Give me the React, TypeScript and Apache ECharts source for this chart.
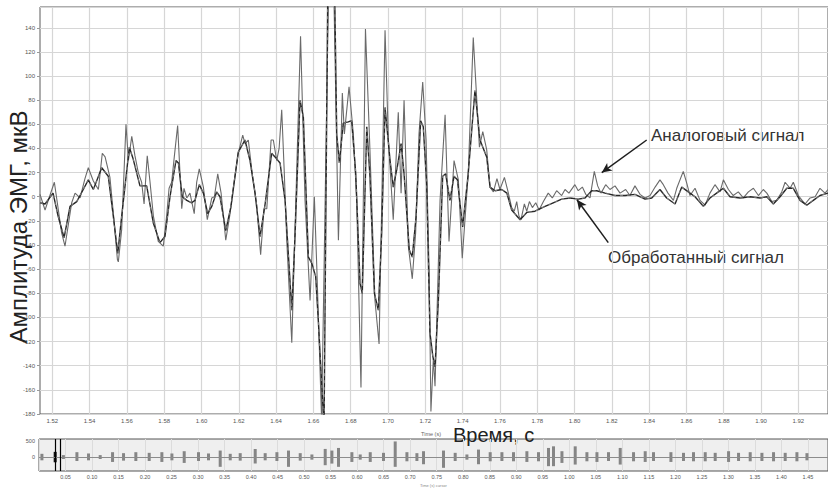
import React, { useEffect, useRef } from "react";
import * as echarts from "echarts";

// ---- Main chart: time axis tick labels (s)
const xTickLabels = ["1.52","1.54","1.56","1.58","1.60","1.62","1.64","1.66","1.68","1.70","1.72","1.74","1.76","1.78","1.80","1.82","1.84","1.86","1.88","1.90","1.92"];

// ---- Analog signal (µV) vertices
const analogT = [1.5134,1.5161,1.5211,1.5250,1.5268,1.5304,1.5322,1.5349,1.5375,1.5393,1.5420,1.5447,1.5468,1.5483,1.5509,1.5527,1.5549,1.5554,1.5572,1.5595,1.5608,1.5626,1.5643,1.5661,1.5679,1.5692,1.5709,1.5724,1.5742,1.5768,1.5795,1.5813,1.5826,1.5840,1.5854,1.5872,1.5894,1.5906,1.5921,1.5938,1.5961,1.5974,1.5988,1.6010,1.6031,1.6055,1.6069,1.6087,1.6105,1.6130,1.6153,1.6171,1.6197,1.6221,1.6233,1.6251,1.6272,1.6296,1.6317,1.6335,1.6350,1.6373,1.6385,1.6403,1.6416,1.6430,1.6444,1.6457,1.6484,1.6531,1.6555,1.6582,1.6605,1.6618,1.6644,1.6683,1.6707,1.6734,1.6755,1.6766,1.6791,1.6814,1.6832,1.6855,1.6879,1.6903,1.6930,1.6952,1.6984,1.7002,1.7028,1.7055,1.7070,1.7086,1.7109,1.7130,1.7148,1.7166,1.7186,1.7204,1.7221,1.7230,1.7243,1.7252,1.7279,1.7306,1.7327,1.7354,1.7377,1.7398,1.7430,1.7457,1.7476,1.7490,1.7508,1.7529,1.7547,1.7565,1.7584,1.7600,1.7624,1.7642,1.7663,1.7677,1.7690,1.7702,1.7713,1.7731,1.7744,1.7758,1.7774,1.7792,1.7810,1.7833,1.7859,1.7881,1.7904,1.7931,1.7949,1.7970,1.8002,1.8020,1.8042,1.8060,1.8083,1.8106,1.8124,1.8142,1.8167,1.8190,1.8217,1.8244,1.8274,1.8297,1.8324,1.8351,1.8378,1.8405,1.8432,1.8458,1.8476,1.8501,1.8530,1.8548,1.8583,1.8602,1.8619,1.8646,1.8673,1.8700,1.8726,1.8753,1.8780,1.8798,1.8825,1.8851,1.8878,1.8905,1.8932,1.8959,1.8986,1.9012,1.9031,1.9058,1.9084,1.9111,1.9129,1.9156,1.9173,1.9200,1.9236,1.9263,1.9290,1.9316,1.9343,1.9359];
const analogV = [2,-11,12,-30,-41,-5,3,-1,15,24,13,6,36,33,16,-13,-52,-54,-27,60,30,50,34,20,12,-6,34,12,-16,-37,-41,-16,7,12,33,59,-10,7,-1,3,-14,12,23,8,-19,-1,0,19,3,-36,-14,8,36,51,44,47,19,-7,-48,-10,-10,47,47,30,40,72,19,-36,-121,133,-3,-86,0,-58,-185,190,190,-36,86,52,91,52,-3,-158,139,39,-86,-122,138,47,-19,70,3,80,-41,-68,-30,52,95,47,-66,-178,-134,-157,-3,68,-37,30,14,-51,19,132,80,41,54,39,8,4,15,6,16,5,-9,-12,-4,-16,-19,-6,-12,-4,-9,-5,-11,-4,3,-1,5,1,6,3,10,5,8,2,-1,21,9,3,10,6,9,3,6,1,9,2,-1,1,8,14,10,3,-3,7,21,11,1,7,-3,-7,3,10,4,14,6,1,4,-1,4,7,1,6,3,-4,-3,4,12,7,12,1,-6,-1,0,7,3,6];

// ---- Processed signal (µV) vertices
const procT = [1.5134,1.5161,1.5204,1.5231,1.5263,1.5295,1.5331,1.5366,1.5393,1.5420,1.5465,1.5500,1.5527,1.5551,1.5572,1.5613,1.5634,1.5670,1.5706,1.5742,1.5777,1.5804,1.5831,1.5863,1.5876,1.5897,1.5921,1.5947,1.5965,1.5988,1.6010,1.6033,1.6055,1.6081,1.6099,1.6130,1.6158,1.6197,1.6233,1.6260,1.6287,1.6314,1.6341,1.6376,1.6394,1.6421,1.6448,1.6484,1.6502,1.6528,1.6546,1.6573,1.6591,1.6612,1.6626,1.6644,1.6657,1.6678,1.6712,1.6725,1.6739,1.6760,1.6787,1.6805,1.6827,1.6850,1.6862,1.6886,1.6903,1.6927,1.6948,1.6966,1.6984,1.7011,1.7028,1.7050,1.7070,1.7086,1.7114,1.7130,1.7150,1.7175,1.7189,1.7207,1.7225,1.7240,1.7252,1.7270,1.7293,1.7309,1.7332,1.7354,1.7372,1.7400,1.7430,1.7466,1.7493,1.7529,1.7547,1.7574,1.7610,1.7637,1.7663,1.7708,1.7744,1.7788,1.7842,1.7886,1.7931,1.7976,1.8020,1.8056,1.8092,1.8119,1.8164,1.8217,1.8271,1.8324,1.8378,1.8414,1.8458,1.8494,1.8539,1.8575,1.8610,1.8646,1.8691,1.8726,1.8771,1.8798,1.8834,1.8888,1.8941,1.8995,1.9031,1.9066,1.9102,1.9138,1.9173,1.9209,1.9245,1.9280,1.9316,1.9359];
const procV = [-5,-6,3,-16,-34,-8,-4,6,14,6,24,17,-16,-47,-16,41,31,9,9,-22,-38,-33,0,30,28,0,-3,-5,-3,10,3,-14,-8,4,0,-28,-8,37,47,30,3,-33,-6,36,33,28,-3,-94,-30,80,66,-50,-55,-66,-102,-154,-190,190,190,52,28,61,62,63,19,-72,-80,58,17,-80,-94,-30,74,30,8,25,44,19,-44,-50,-17,63,58,11,-113,-132,-141,-86,17,19,-3,17,14,-25,19,88,47,33,8,5,6,3,-11,-19,-13,-12,-8,-5,-2,-1,-2,-1,5,5,3,1,1,2,-2,-1,6,-1,-6,8,4,0,-8,-1,4,7,0,-1,0,-1,0,-6,0,7,7,-3,-7,-3,1,3];

// ---- Annotation arrows: [tail, head] in (s, µV)
const arrowAnalog = [[1.8387, 47], [1.8146, 20]];
const arrowProc = [[1.8181, -38], [1.8013, -2.5]];

// ---- Overview strip: burst times (s) and envelope (upper / lower)
const miniT = [0.0055,0.0305,0.046,0.0715,0.0934,0.1154,0.1387,0.1594,0.1826,0.2078,0.2317,0.2506,0.2738,0.3008,0.3196,0.3417,0.3606,0.3794,0.4077,0.4265,0.4486,0.4705,0.4926,0.5146,0.5397,0.5523,0.5648,0.5900,0.6057,0.6246,0.6496,0.6717,0.6938,0.7126,0.7251,0.7628,0.7848,0.8069,0.8288,0.8508,0.8729,0.8948,0.9200,0.9419,0.9608,0.9702,0.9861,1.0111,1.0332,1.0521,1.0739,1.0960,1.1211,1.1431,1.1588,1.1916,1.2153,1.2342,1.2563,1.2751,1.3003,1.3191,1.3411,1.3632,1.3851,1.4071,1.4292,1.4481];
const miniUp = [100,160,60,150,110,60,150,120,150,130,150,110,180,150,110,200,100,120,250,120,150,200,120,80,250,200,280,150,80,150,130,480,150,120,180,200,130,80,230,150,150,150,180,150,280,330,180,330,150,150,150,280,150,180,150,150,130,150,150,130,180,130,150,130,150,130,150,120];
const miniDown = [-100,-160,-60,-120,-100,-60,-150,-110,-120,-120,-150,-100,-180,-120,-100,-300,-100,-110,-200,-100,-120,-300,-110,-80,-250,-200,-300,-150,-80,-150,-120,-300,-130,-120,-220,-330,-120,-80,-220,-130,-120,-130,-150,-130,-280,-280,-180,-230,-130,-150,-120,-230,-130,-150,-120,-150,-120,-130,-130,-120,-150,-120,-130,-120,-130,-120,-130,-100];
const miniWindow = [0.0273, 0.0356];
const miniYLabels = [0, 500];

const FONT = "'Liberation Sans', Arial, sans-serif";

export default function App() {
  const ref = useRef<HTMLDivElement>(null);
  useEffect(() => {
    const chart = echarts.init(ref.current!, null, { renderer: "svg" });
    const xTicks = xTickLabels.map(Number);
    const analog = analogT.map((t, i) => [t, analogV[i]]);
    const proc = procT.map((t, i) => [t, procV[i]]);
    const inWin = (t: number) => t >= miniWindow[0] && t <= miniWindow[1];
    const up = miniT.map((t, i) => ({ value: [t, miniUp[i]], itemStyle: { color: inWin(t) ? "#111" : "#858585" } }));
    const down = miniT.map((t, i) => ({ value: [t, miniDown[i]], itemStyle: { color: inWin(t) ? "#111" : "#858585" } }));

    chart.setOption({
      animation: false,
      backgroundColor: "#ffffff",
      textStyle: { fontFamily: FONT },
      grid: [
        { left: 40, top: 7, width: 788, height: 407, show: true, borderColor: "#5a5a5a", borderWidth: 1, backgroundColor: "transparent" },
        { left: 39, top: 439, width: 789, height: 32, show: true, borderColor: "#555", borderWidth: 1, backgroundColor: "#efefef" },
      ],
      xAxis: [
        {
          type: "value", gridIndex: 0, min: 1.5134, max: 1.9359,
          axisLine: { show: false },
          axisTick: { show: false, customValues: xTicks },
          axisLabel: { customValues: xTicks, formatter: (v: number) => v.toFixed(2), fontSize: 6, color: "#555", margin: 4 },
          splitLine: { show: true, lineStyle: { color: "#d6d6d6", width: 1.2 } },
        },
        {
          type: "value", gridIndex: 1, min: 0, max: 1.4878, interval: 0.05,
          axisLine: { show: false }, axisTick: { show: false },
          axisLabel: { fontSize: 5.5, color: "#555", margin: 3, showMinLabel: false, showMaxLabel: false, formatter: (v: number) => v.toFixed(2) },
          splitLine: { show: true, lineStyle: { color: "#dcdcdc", width: 1 } },
        },
      ],
      yAxis: [
        {
          type: "value", gridIndex: 0, min: -180, max: 157.2, interval: 20,
          axisLine: { show: false },
          axisTick: { show: true, length: 3, lineStyle: { color: "#999" } },
          axisLabel: { fontSize: 6, color: "#555", margin: 5, showMaxLabel: false },
          splitLine: { show: true, lineStyle: { color: "#d6d6d6", width: 1.2 } },
        },
        {
          type: "value", gridIndex: 1, min: -428, max: 555,
          axisLine: { show: false },
          axisTick: { show: false, customValues: miniYLabels },
          axisLabel: { customValues: miniYLabels, fontSize: 5.5, color: "#555", margin: 4 },
          splitLine: { show: false },
        },
      ],
      series: [
        {
          name: "Аналоговый сигнал", type: "line", xAxisIndex: 0, yAxisIndex: 0, data: analog,
          symbol: "none", clip: true, z: 2,
          lineStyle: { color: "#6a6a6a", width: 1.1 },
          markLine: {
            silent: true, symbol: ["none", "arrow"], symbolSize: [7, 10],
            label: { show: false },
            lineStyle: { color: "#1e1e1e", width: 1.5, type: "solid" },
            data: [
              [{ coord: arrowAnalog[0] }, { coord: arrowAnalog[1] }],
              [{ coord: arrowProc[0] }, { coord: arrowProc[1] }],
            ],
          },
        },
        {
          name: "Обработанный сигнал", type: "line", xAxisIndex: 0, yAxisIndex: 0, data: proc,
          symbol: "none", clip: true, z: 3,
          lineStyle: { color: "#262626", width: 1.4 },
        },
        {
          name: "Обработанный сигнал (штрих)", type: "line", xAxisIndex: 0, yAxisIndex: 0, data: proc,
          symbol: "none", clip: true, z: 4,
          lineStyle: { color: "#b5b5b5", width: 0.6, type: [3, 4] },
        },
        {
          type: "bar", xAxisIndex: 1, yAxisIndex: 1, data: up, barWidth: 3, barGap: "-100%", z: 2,
          markLine: {
            silent: true, symbol: ["none", "none"], label: { show: false },
            data: [
              { yAxis: 0, lineStyle: { color: "#8c8c8c", width: 1, type: "solid" } },
              { xAxis: miniWindow[0], lineStyle: { color: "#000", width: 1.2, type: "solid" } },
              { xAxis: miniWindow[1], lineStyle: { color: "#000", width: 1.2, type: "solid" } },
            ],
          },
        },
        { type: "bar", xAxisIndex: 1, yAxisIndex: 1, data: down, barWidth: 3, barGap: "-100%", z: 2 },
      ],
      graphic: [
        { type: "text", x: 18, y: 227, rotation: Math.PI / 2, style: { text: "Амплитуда ЭМГ, мкВ", fontSize: 24, fill: "#222", align: "center", verticalAlign: "middle", fontFamily: FONT } },
        { type: "text", x: 453, y: 435, style: { text: "Время, с", fontSize: 20, fill: "#222", align: "left", verticalAlign: "middle", fontFamily: FONT } },
        { type: "text", x: 421, y: 434, style: { text: "Time (s)", fontSize: 5.5, fill: "#666", align: "left", verticalAlign: "middle", fontFamily: FONT } },
        { type: "text", x: 651, y: 135, style: { text: "Аналоговый сигнал", fontSize: 17, fill: "#333", align: "left", verticalAlign: "middle", fontFamily: FONT } },
        { type: "text", x: 608, y: 257, style: { text: "Обработанный сигнал", fontSize: 17, fill: "#333", align: "left", verticalAlign: "middle", fontFamily: FONT } },
        { type: "text", x: 420, y: 485, style: { text: "Time (s) cursor", fontSize: 4, fill: "#888", align: "left", verticalAlign: "middle", fontFamily: FONT } },
      ],
    });
    return () => chart.dispose();
  }, []);
  return <div ref={ref} style={{ position: "fixed", left: 0, top: 0, width: 828, height: 488, background: "#fff" }} />;
}
